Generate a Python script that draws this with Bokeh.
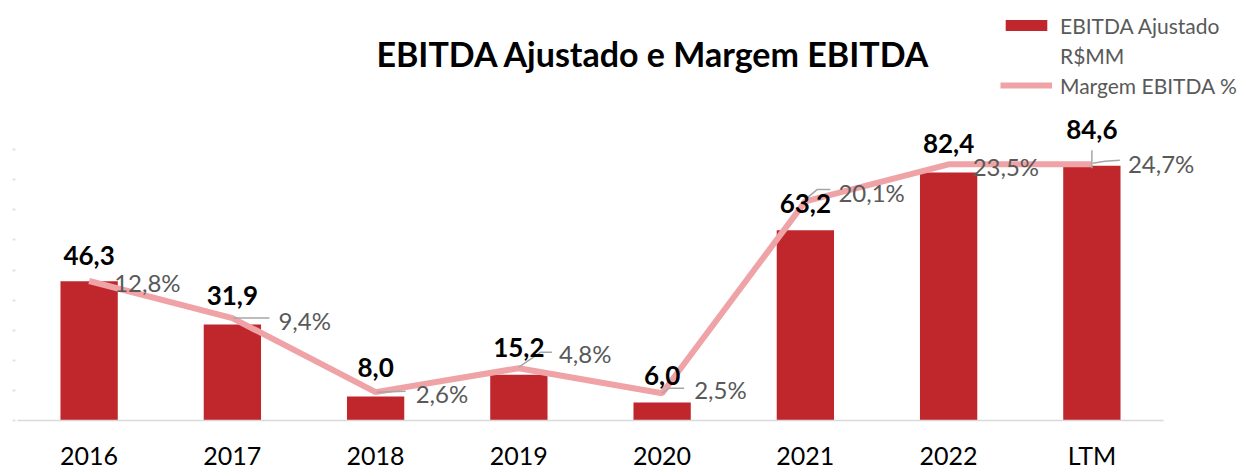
from bokeh.plotting import figure
from bokeh.models import (Range1d, LinearAxis, FixedTicker, Legend, LegendItem,
                          Label, ColumnDataSource)
from bokeh.core.properties import value
from bokeh.embed import file_html
from bokeh.resources import INLINE

# ---------------- data ----------------
categorias = ["2016", "2017", "2018", "2019", "2020", "2021", "2022", "LTM"]
ebitda = [46.3, 31.9, 8.0, 15.2, 6.0, 63.2, 82.4, 84.6]          # R$MM
margem = [12.8, 9.4, 2.6, 4.8, 2.5, 20.1, 23.5, 24.7]            # % (labels)
margem_linha = [12.8, 9.4, 2.6, 4.8, 2.5, 20.1, 23.5, 23.5]      # % as drawn in the line
y_ticks = [0, 10, 20, 30, 40, 50, 60, 70, 80, 90]

# ---------------- layout (pixels) ----------------
W, H = 1241, 468
X0 = 17           # canvas x where first category starts
CAT = 143.25      # px per category
Y0 = 420          # canvas y of the baseline
PX_UNIT = 3.01    # px per R$MM
PX_PCT = 10.9     # px per margin %

# value label lift above bar top (px)
val_lift = [26, 29, 29, 27, 27, 27, 29, 36]
# percent label offsets (px, y down) relative to line point
rot_dx = [25, 46, 40, 40, 32, 33, 24, 36]
rot_dy = [2, 2, 1, -15, -4, -9, 2, -1]
# leader lines (px, y down) relative to line point
guias = [
    [],
    [[(1, 0), (37, 0)]],
    [[(1, 0), (30, -1)]],
    [[(0, -1), (22, -16), (33, -16)]],
    [[(0, 0), (7, -5), (22, -5)]],
    [[(0, -2), (12, -12), (25, -12)]],
    [],
    [[(0, -14), (0, 4)], [(1, -1), (13, -3), (28, -4)]],
]

n = len(categorias)
xs = [i + 0.5 for i in range(n)]

src = ColumnDataSource(dict(
    x=xs,
    ebitda=ebitda,
    margem_linha=margem_linha,
    ebitda_txt=[f"{v:.1f}".replace(".", ",") for v in ebitda],
    margem_txt=[f"{v:.1f}%".replace(".", ",") for v in margem],
    vdy=[-v for v in val_lift],
    dx=rot_dx,
    dy=rot_dy,
))

gx, gy = [], []
for i, segs in enumerate(guias):
    for seg in segs:
        gx.append([xs[i] + dx / CAT for dx, dy in seg])
        gy.append([margem_linha[i] - dy / PX_PCT for dx, dy in seg])

p = figure(width=W, height=H,
           x_range=Range1d(-X0 / CAT, (W - X0) / CAT),
           y_range=Range1d(-(H - Y0) / PX_UNIT, Y0 / PX_UNIT),
           output_backend="svg", toolbar_location=None,
           x_axis_location=None, y_axis_location=None,
           min_border=0, outline_line_color=None,
           background_fill_color="white", border_fill_color="white")
p.extra_y_ranges = {"pct": Range1d(-(H - Y0) / PX_PCT, Y0 / PX_PCT)}
p.xgrid.visible = False
p.ygrid.visible = False

# x axis drawn at y = 0 inside the frame
xaxis = LinearAxis(fixed_location=0,
                   ticker=FixedTicker(ticks=xs),
                   major_label_overrides={x: c for x, c in zip(xs, categorias)},
                   bounds=(0, n),
                   axis_line_color="#D9D9D9", axis_line_width=1.5,
                   major_tick_in=0, major_tick_out=0,
                   minor_tick_in=0, minor_tick_out=0,
                   major_label_standoff=19,
                   major_label_text_font="Lato",
                   major_label_text_font_size="25px",
                   major_label_text_color="#000000")
p.add_layout(xaxis, "below")

# faint left axis ticks
yaxis = LinearAxis(fixed_location=(15 - X0) / CAT,
                   ticker=FixedTicker(ticks=y_ticks),
                   major_label_overrides={t: "" for t in y_ticks},
                   axis_line_color=None,
                   major_tick_in=0, major_tick_out=3,
                   major_tick_line_color="#E3E3E3", major_tick_line_width=2,
                   minor_tick_in=0, minor_tick_out=0,
                   major_label_text_font_size="1px")
p.add_layout(yaxis, "left")

bars = p.vbar(x="x", top="ebitda", width=0.4, bottom=0, source=src,
              fill_color="#C0272D", line_color=None)
line = p.line(x="x", y="margem_linha", source=src, y_range_name="pct",
              line_color="#EFA3A6", line_width=6)
blank = p.line(x=[], y=[], line_alpha=0)
p.multi_line(xs=gx, ys=gy, y_range_name="pct", line_color="#A6A6A6", line_width=1.5)

p.text(x="x", y="ebitda", text="ebitda_txt", source=src,
       text_align="center", text_baseline="middle", y_offset="vdy",
       text_font=value("Lato"), text_font_style="bold",
       text_font_size="26px", text_color="#000000")
p.text(x="x", y="margem_linha", text="margem_txt", source=src, y_range_name="pct",
       x_offset="dx", y_offset="dy",
       text_align="left", text_baseline="middle",
       text_font=value("Lato"), text_font_size="24px", text_color="#595959")

title = Label(x=(653 - X0) / CAT, y=(Y0 - 53) / PX_UNIT,
              text="EBITDA Ajustado e Margem EBITDA",
              text_align="center", text_baseline="middle",
              text_font="Lato", text_font_style="bold", text_font_size="34px",
              text_color="#000000")
p.add_layout(title)

legend = Legend(items=[LegendItem(label="EBITDA Ajustado", renderers=[bars]),
                       LegendItem(label="R$MM", renderers=[blank]),
                       LegendItem(label="Margem EBITDA %", renderers=[line])],
                location=(1000, H - 100),
                glyph_width=52, glyph_height=14, label_standoff=8,
                label_height=30,
                label_text_font="Lato", label_text_font_size="21px",
                label_text_color="#595959",
                spacing=0, padding=0, margin=0,
                border_line_color=None, background_fill_alpha=0)
p.add_layout(legend)

open("out.html", "w").write(file_html(p, INLINE))
